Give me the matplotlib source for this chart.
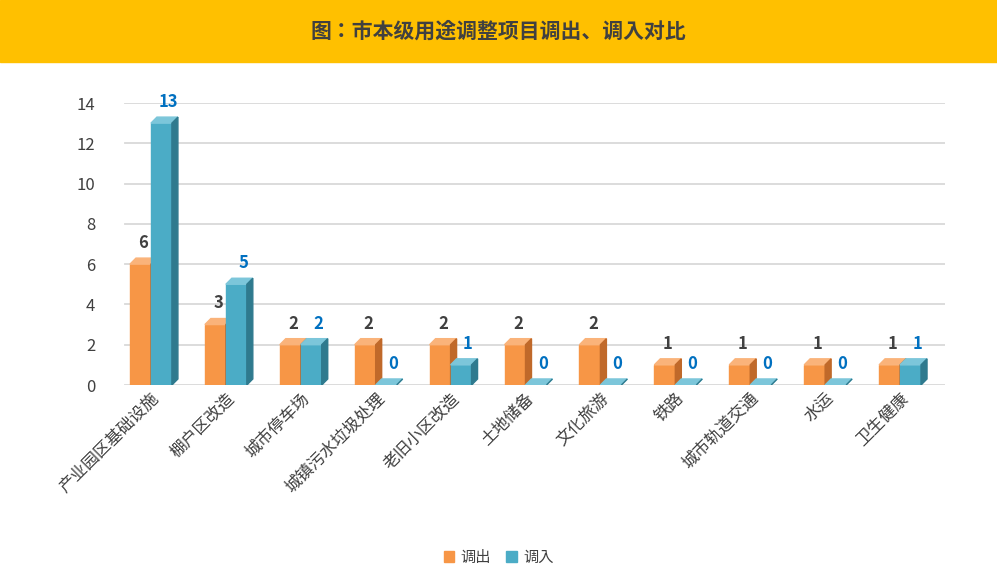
import matplotlib
matplotlib.use("Agg")
import matplotlib.pyplot as plt
from matplotlib import font_manager
from matplotlib.patches import Polygon, Rectangle

cjk = None
for f in font_manager.fontManager.ttflist:
    if "CJK" in f.name and ("SC" in f.name or cjk is None):
        cjk = f.name
        if "SC" in f.name:
            break
if cjk is None:
    for f in font_manager.findSystemFonts():
        if "CJK" in f or "cjk" in f.lower():
            font_manager.fontManager.addfont(f)
            cjk = font_manager.FontProperties(fname=f).get_name()
            break
plt.rcParams['font.family'] = [cjk or 'Noto Sans CJK SC', 'DejaVu Sans']

categories = ["产业园区基础设施", "棚户区改造", "城市停车场", "城镇污水垃圾处理", "老旧小区改造",
              "土地储备", "文化旅游", "铁路", "城市轨道交通", "水运", "卫生健康"]
out_vals = [6, 3, 2, 2, 2, 2, 2, 1, 1, 1, 1]
in_vals = [13, 5, 2, 0, 1, 0, 0, 0, 0, 0, 1]
series_names = ["调出", "调入"]

fig = plt.figure(figsize=(9.97, 5.88), dpi=100)
fig.patches.append(Rectangle((0, 1 - 62/588), 1, 62/588, transform=fig.transFigure,
                             color="#FFC000", zorder=0))
fig.text(0.5, 1 - 31/588, "图：市本级用途调整项目调出、调入对比", ha="center", va="center",
         fontsize=15, fontweight="bold", color="#404040")

ax = fig.add_axes([100/997, 1 - 385/588, 845/997, 282/588])
ax.set_xlim(-0.68, 10.6)
ax.set_ylim(0, 14)
for s in ax.spines.values():
    s.set_visible(False)
ax.set_yticks(range(0, 15, 2))
ax.tick_params(length=0, labelsize=12, colors="#404040")
for y in range(0, 15, 2):
    ax.plot([-0.35, 10.6], [y, y], color="#D9D9D9", lw=1.3, zorder=0)

w = 0.28
dx, dy = 0.08, 0.3
colors = [("#F79646", "#FAB37A", "#C0692A"), ("#4BACC6", "#7CC6DA", "#2F7A8E")]

def bar3d(x0, h, cols):
    front, top, side = cols
    ax.add_patch(Rectangle((x0, 0), w, h, color=front, zorder=3))
    ax.add_patch(Polygon([(x0, h), (x0 + dx, h + dy), (x0 + w + dx, h + dy), (x0 + w, h)],
                         color=top, zorder=3))
    ax.add_patch(Polygon([(x0 + w, 0), (x0 + w + dx, dy), (x0 + w + dx, h + dy), (x0 + w, h)],
                         color=side, zorder=3))

for i in range(len(categories)):
    bar3d(i - w, out_vals[i], colors[0])
    bar3d(i, in_vals[i], colors[1])
    ax.text(i - w/2 + dx/2, out_vals[i] + dy + 0.3, str(out_vals[i]), ha="center", va="bottom",
            fontsize=12, fontweight="bold", color="#404040", zorder=5)
    ax.text(i + w/2 + dx/2 + 0.05, in_vals[i] + dy + 0.3, str(in_vals[i]), ha="center", va="bottom",
            fontsize=12, fontweight="bold", color="#0070C0", zorder=5)

ax.set_xticks(range(len(categories)))
ax.set_xticklabels(categories, rotation=45, ha="right", rotation_mode="anchor", fontsize=12,
                   color="#404040")

handles = [Rectangle((0, 0), 1, 1, color=c[0]) for c in colors]
fig.legend(handles, series_names, loc="center", bbox_to_anchor=(0.5, 1 - 557/588), ncol=2,
           frameon=False, fontsize=11, handlelength=0.7, handleheight=0.7, columnspacing=1.0,
           handletextpad=0.4, labelcolor="#404040")

fig.savefig("out.png", dpi=100)
